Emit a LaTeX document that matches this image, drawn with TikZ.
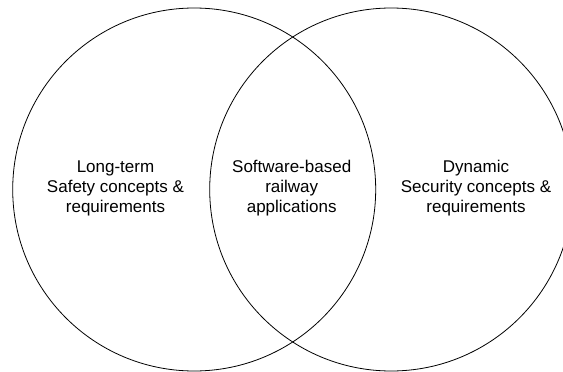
\documentclass[tikz,border=0pt]{standalone}
\usepackage{fontspec}
\setmainfont{Liberation Sans}
\begin{document}
\begin{tikzpicture}[x=1pt,y=-1pt,
  setring/.style={circle, draw=black, line width=0.8pt, minimum size=363pt, inner sep=0pt},
  setlabel/.style={align=center, inner sep=0pt, font=\fontsize{17}{20}\selectfont, text=black}]
\useasboundingbox (0,0) rectangle (563,372);
\clip (0,0) rectangle (563,372);
\node[setring] (safety) at (194.2,189.5) {};
\node[setring] (security) at (391.2,189.5) {};
\node[setlabel] (safetytext) at (115.5,188.3) {Long-term\\Safety concepts \&\\requirements};
\node[setlabel] (apptext) at (291.7,188.3) {Software-based\\railway\\applications};
\node[setlabel] (securitytext) at (476,188.3) {Dynamic\\Security concepts \&\\requirements};
\end{tikzpicture}
\end{document}
